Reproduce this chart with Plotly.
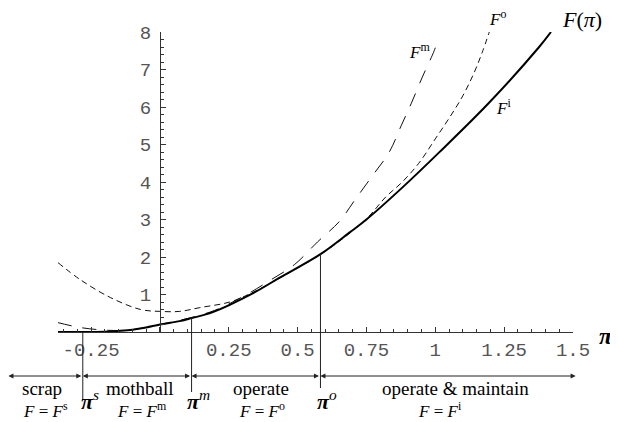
import plotly.graph_objects as go

# ---------------- data ----------------
# regime boundaries on the pi axis
pi_s = -0.28
pi_m = 0.115
pi_o = 0.583
scrap_left = -0.55
maintain_right = 1.515

x_range = [-0.37, 1.5]
y_range = [0, 8]

# F^i : solid envelope
fi_pi = [-0.37, -0.28, -0.2, -0.15, -0.1, -0.05, 0.0, 0.072, 0.115, 0.192, 0.337, 0.435,
         0.586, 0.688, 0.75, 0.88, 1.014, 1.196, 1.377, 1.42]
fi_val = [0.0, 0.0, 0.01, 0.03, 0.06, 0.12, 0.2, 0.29, 0.37, 0.53, 1.03, 1.45,
          2.09, 2.65, 3.0, 3.85, 4.79, 6.12, 7.6, 8.0]

# F^m : long dashes
fm_pi = [-0.37, -0.33, -0.29, -0.22, -0.15, -0.1, 0.0, 0.1, 0.2, 0.315, 0.405, 0.489,
         0.572, 0.652, 0.706, 0.77, 0.833, 0.876, 0.913, 0.953, 0.996, 1.005]
fm_val = [0.25, 0.18, 0.12, 0.06, 0.04, 0.06, 0.2, 0.36, 0.58, 1.0, 1.4, 1.8,
          2.4, 2.95, 3.5, 4.15, 4.8, 5.5, 6.1, 6.8, 7.5, 7.7]

# F^o : short dashes
fo_pi = [-0.37, -0.29, -0.18, -0.07, 0.0, 0.072, 0.145, 0.254, 0.33, 0.45, 0.6, 0.75,
         0.82, 0.88, 0.94, 1.0, 1.05, 1.1, 1.14, 1.17, 1.196]
fo_val = [1.85, 1.4, 0.92, 0.6, 0.55, 0.55, 0.65, 0.8, 1.03, 1.5, 2.15, 3.02,
          3.6, 4.0, 4.5, 5.15, 5.7, 6.3, 6.9, 7.45, 8.0]

# values of F^i where the boundary lines meet the curve
f_at_pi_m = 0.37
f_at_pi_o = 2.09

x_tick_vals = [-0.25, 0, 0.25, 0.5, 0.75, 1, 1.25, 1.5]
x_tick_text = ["-0.25", "", "0.25", "0.5", "0.75", "1", "1.25", "1.5"]
y_tick_vals = [1, 2, 3, 4, 5, 6, 7, 8]
y_tick_text = ["1", "2", "3", "4", "5", "6", "7", "8"]

region_names = ["scrap", "mothball", "operate", "operate &amp; maintain"]
region_name_pos = [-0.428, -0.073, 0.367, 1.075]
region_formulas = ["<i>F</i> = <i>F</i><sup>s</sup>", "<i>F</i> = <i>F</i><sup>m</sup>",
                   "<i>F</i> = <i>F</i><sup>o</sup>", "<i>F</i> = <i>F</i><sup>i</sup>"]
region_formula_pos = [-0.417, -0.065, 0.370, 1.017]

# --------------- figure ---------------
SERIF = "Liberation Serif"
MONO = "Liberation Mono"
INK = "#222"

# the page body has an 8px margin; the plot area is placed at page pixels
# x 58..573, y 32..332
BODY = 8
W, H = 618 - BODY, 422 - BODY
PL, PR, PT, PB = 58, 573, 32, 332

fig = go.Figure()
fig.add_trace(go.Scatter(x=fo_pi, y=fo_val, mode="lines", line_shape="spline",
                         line=dict(color="#111", width=1, dash="6px,4px"), showlegend=False))
fig.add_trace(go.Scatter(x=fm_pi, y=fm_val, mode="lines", line_shape="spline",
                         line=dict(color="#111", width=1, dash="14px,11px"), showlegend=False))
fig.add_trace(go.Scatter(x=fi_pi, y=fi_val, mode="lines", line_shape="spline",
                         line=dict(color="#000", width=2), showlegend=False))

x0, x1 = x_range


def to_paper(v):
    return (v - x0) / (x1 - x0)


def px(pix):
    # page pixel column -> paper x
    return (pix - PL) / (PR - PL)


def py(pix):
    # page pixel row -> paper y
    return (PB - pix) / (PB - PT)


# boundary lines: part above the axis (data), part below the axis (paper)
fig.add_shape(type="line", xref="x", yref="y", x0=pi_m, x1=pi_m, y0=0, y1=f_at_pi_m,
              line=dict(color=INK, width=1))
fig.add_shape(type="line", xref="x", yref="y", x0=pi_o, x1=pi_o, y0=0, y1=f_at_pi_o,
              line=dict(color=INK, width=1))
for bx, bottom in [(pi_s, 400), (pi_m, 392), (pi_o, 388)]:
    fig.add_shape(type="line", xref="x", yref="paper", x0=bx, x1=bx, y0=0, y1=py(bottom),
                  line=dict(color=INK, width=1))

# double-headed arrows between boundaries
arrow_y = py(376)
for a, b in [(scrap_left, pi_s), (pi_s, pi_m), (pi_m, pi_o), (pi_o, maintain_right)]:
    fig.add_annotation(x=a, y=arrow_y, xref="x", yref="paper", ax=b, ay=0, axref="x",
                       ayref="pixel", text="", showarrow=True, arrowhead=2, arrowsize=1,
                       arrowwidth=1, arrowcolor=INK, arrowside="end+start",
                       startarrowhead=2, startarrowsize=1, standoff=0, startstandoff=0)

# region labels
for name, pos in zip(region_names, region_name_pos):
    fig.add_annotation(x=to_paper(pos), y=py(388), xref="paper", yref="paper", text=name,
                       showarrow=False, font=dict(family=SERIF, size=19, color="#000"),
                       xanchor="center", yanchor="middle")
for ftxt, pos in zip(region_formulas, region_formula_pos):
    fig.add_annotation(x=to_paper(pos), y=py(410), xref="paper", yref="paper", text=ftxt,
                       showarrow=False, font=dict(family=SERIF, size=17, color="#000"),
                       xanchor="center", yanchor="middle")

# pi labels at the boundaries
for bx, sup in [(pi_s, "s"), (pi_m, "m"), (pi_o, "o")]:
    fig.add_annotation(x=bx, y=py(400), xref="x", yref="paper",
                       text="<b><i>π</i></b><sup><i>" + sup + "</i></sup>",
                       showarrow=False, xshift=7, font=dict(family=SERIF, size=22, color="#000"),
                       xanchor="center", yanchor="middle")

# axis titles
fig.add_annotation(x=px(606), y=py(336), xref="paper", yref="paper",
                   text="<b><i>π</i></b>", showarrow=False,
                   font=dict(family=SERIF, size=24, color="#000"), xanchor="center", yanchor="middle")
fig.add_annotation(x=px(604), y=py(20), xref="paper", yref="paper",
                   text="<i>F</i>(<i>π</i>)", showarrow=False,
                   font=dict(family=SERIF, size=22, color="#000"), xanchor="right", yanchor="middle")

# curve labels
fig.add_annotation(x=px(497), y=py(18), xref="paper", yref="paper", text="<i>F</i><sup>o</sup>",
                   showarrow=False, font=dict(family=SERIF, size=17, color="#000"),
                   xanchor="center", yanchor="middle")
fig.add_annotation(x=0.944, y=7.5, xref="x", yref="y", text="<i>F</i><sup>m</sup>",
                   showarrow=False, font=dict(family=SERIF, size=17, color="#000"),
                   xanchor="center", yanchor="middle")
fig.add_annotation(x=1.249, y=6.0, xref="x", yref="y", text="<i>F</i><sup>i</sup>",
                   showarrow=False, font=dict(family=SERIF, size=17, color="#000"),
                   xanchor="center", yanchor="middle")

tickfont = dict(family=MONO, size=19, color="#555")
fig.update_layout(
    width=W, height=H,
    margin=dict(l=PL - BODY, r=W - (PR - BODY), t=PT - BODY, b=H - (PB - BODY), pad=0),
    paper_bgcolor="white", plot_bgcolor="white",
    xaxis=dict(range=x_range, showgrid=False, zeroline=False, showline=True,
               linecolor="#333", linewidth=1, ticks="inside", ticklen=5, tickcolor="#333",
               tickvals=x_tick_vals, ticktext=x_tick_text, tickfont=tickfont,
               minor=dict(dtick=0.05, ticks="inside", ticklen=3, tickcolor="#333", showgrid=False),
               anchor="y"),
    yaxis=dict(range=y_range, showgrid=False, zeroline=False, showline=True,
               linecolor="#333", linewidth=1, ticks="inside", ticklen=5, tickcolor="#333",
               tickvals=y_tick_vals, ticktext=y_tick_text, tickfont=tickfont,
               ticklabelstandoff=5,
               minor=dict(dtick=0.2, ticks="inside", ticklen=3, tickcolor="#333", showgrid=False),
               anchor="free", position=to_paper(0)),
)

fig.write_html("out.html")
